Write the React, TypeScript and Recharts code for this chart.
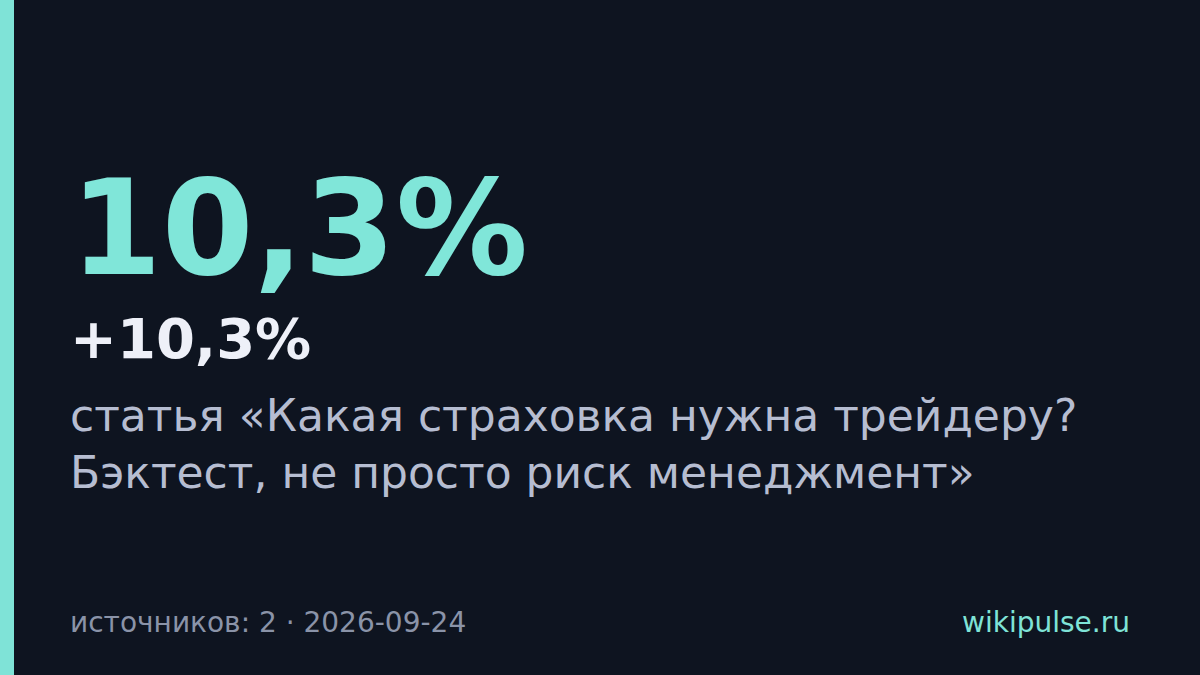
import { Surface, Rectangle } from "recharts";

const headline = ["10,3%"];
const delta = ["+10,3%"];
const titleLines = ["статья «Какая страховка нужна трейдеру?", "Бэктест, не просто риск менеджмент»"];
const footerLeft = ["источников: 2 · 2026-09-24"];
const footerRight = ["wikipulse.ru"];

const W = 1200;
const H = 675;
const FONT = "'DejaVu Sans', sans-serif";

export default function App() {
  return (
    <div style={{ position: "fixed", left: 0, top: 0, width: W, height: H, background: "#0e1420" }}>
      <Surface width={W} height={H}>
        <Rectangle x={0} y={0} width={W} height={H} fill="#0e1420" />
        <Rectangle x={0} y={0} width={14} height={H} fill="#7fe3d7" />
        <text x={70} y={274} fontFamily={FONT} fontWeight="bold" fontSize={132} fill="#80e6d9">
          {headline[0]}
        </text>
        <text x={70} y={358} fontFamily={FONT} fontWeight="bold" fontSize={56} fill="#eef0f8">
          {delta[0]}
        </text>
        {titleLines.map((line, i) => (
          <text key={i} x={70} y={431 + i * 57} fontFamily={FONT} fontSize={44} fill="#b6bdd1">
            {line}
          </text>
        ))}
        <text x={70} y={632} fontFamily={FONT} fontSize={28} fill="#8a93a8">
          {footerLeft[0]}
        </text>
        <text x={1130} y={632} textAnchor="end" fontFamily={FONT} fontSize={28} fill="#7fe3d7">
          {footerRight[0]}
        </text>
      </Surface>
    </div>
  );
}
